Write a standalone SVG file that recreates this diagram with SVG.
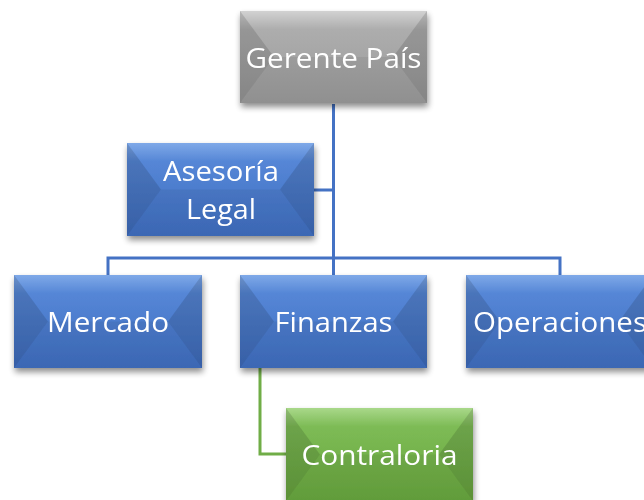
<svg xmlns="http://www.w3.org/2000/svg" width="644" height="500" viewBox="0 0 644 500">
<defs>
<filter id="sh" x="-10%" y="-10%" width="120%" height="130%">
<feGaussianBlur in="SourceAlpha" stdDeviation="3"/>
<feOffset dx="1" dy="4" result="b"/>
<feComponentTransfer><feFuncA type="linear" slope="0.45"/></feComponentTransfer>
<feMerge><feMergeNode/><feMergeNode in="SourceGraphic"/></feMerge>
</filter>
<linearGradient id="gBlue" x1="0" y1="0" x2="0" y2="1">
<stop offset="0" stop-color="#7FA9E8"/><stop offset="0.2" stop-color="#5586D6"/><stop offset="1" stop-color="#3F6EC0"/>
</linearGradient>
<linearGradient id="gGray" x1="0" y1="0" x2="0" y2="1">
<stop offset="0" stop-color="#D2D2D2"/><stop offset="0.2" stop-color="#ADADAD"/><stop offset="1" stop-color="#9A9A9A"/>
</linearGradient>
<linearGradient id="gGreen" x1="0" y1="0" x2="0" y2="1">
<stop offset="0" stop-color="#A9D88A"/><stop offset="0.2" stop-color="#7DBB55"/><stop offset="1" stop-color="#68A63E"/>
</linearGradient>
</defs>
<style>
.lb{font-family:"Open Sans","Noto Sans","Liberation Sans",sans-serif;font-size:27px;fill:#FFFFFF;text-anchor:middle}
.side{fill:#000;fill-opacity:0.13}
.bot{fill:#000;fill-opacity:0.06}
.top{fill:#FFF;fill-opacity:0.08}
.cb{fill:none;stroke:#4472C4;stroke-width:3}
.cg{fill:none;stroke:#70AD47;stroke-width:3}
</style>
<g id="connectors">
<path class="cb" d="M333.5 104 V258 M314 190 H333.5 M108 275 V258 H560 V275 M333.5 258 V275"/>
<path class="cg" d="M260 368 V454 H286"/>
</g>
<g id="gerente" filter="url(#sh)">
<rect x="240" y="11" width="187" height="92" fill="url(#gGray)"/>
<polygon class="side" points="240,11 274,57 240,103"/>
<polygon class="side" points="427,11 393,57 427,103"/>
<polygon class="bot" points="240,103 274,57 393,57 427,103"/>
<text class="lb" x="333.5" y="68" textLength="176" lengthAdjust="spacingAndGlyphs">Gerente País</text>
</g>
<g id="asesoria" filter="url(#sh)">
<rect x="127" y="143" width="187" height="93" fill="url(#gBlue)"/>
<polygon class="side" points="127,143 161,189.5 127,236"/>
<polygon class="side" points="314,143 280,189.5 314,236"/>
<polygon class="bot" points="127,236 161,189.5 280,189.5 314,236"/>
<text class="lb" x="221" y="181" textLength="116" lengthAdjust="spacingAndGlyphs">Asesoría</text>
<text class="lb" x="221" y="219" textLength="70" lengthAdjust="spacingAndGlyphs">Legal</text>
</g>
<g id="mercado" filter="url(#sh)">
<rect x="14" y="275" width="188" height="93" fill="url(#gBlue)"/>
<polygon class="side" points="14,275 48,321.5 14,368"/>
<polygon class="side" points="202,275 168,321.5 202,368"/>
<polygon class="bot" points="14,368 48,321.5 168,321.5 202,368"/>
<text class="lb" x="108" y="332" textLength="122" lengthAdjust="spacingAndGlyphs">Mercado</text>
</g>
<g id="finanzas" filter="url(#sh)">
<rect x="240" y="275" width="187" height="93" fill="url(#gBlue)"/>
<polygon class="side" points="240,275 274,321.5 240,368"/>
<polygon class="side" points="427,275 393,321.5 427,368"/>
<polygon class="bot" points="240,368 274,321.5 393,321.5 427,368"/>
<text class="lb" x="333.5" y="332" textLength="118" lengthAdjust="spacingAndGlyphs">Finanzas</text>
</g>
<g id="operaciones" filter="url(#sh)">
<rect x="466" y="275" width="187" height="93" fill="url(#gBlue)"/>
<polygon class="side" points="466,275 500,321.5 466,368"/>
<polygon class="side" points="653,275 619,321.5 653,368"/>
<polygon class="bot" points="466,368 500,321.5 619,321.5 653,368"/>
<text class="lb" x="560" y="332" textLength="174" lengthAdjust="spacingAndGlyphs">Operaciones</text>
</g>
<g id="contraloria" filter="url(#sh)">
<rect x="286" y="408" width="187" height="93" fill="url(#gGreen)"/>
<polygon class="side" points="286,408 320,454.5 286,501"/>
<polygon class="side" points="473,408 439,454.5 473,501"/>
<polygon class="bot" points="286,501 320,454.5 439,454.5 473,501"/>
<text class="lb" x="379.5" y="465" textLength="156" lengthAdjust="spacingAndGlyphs">Contraloria</text>
</g>
</svg>
